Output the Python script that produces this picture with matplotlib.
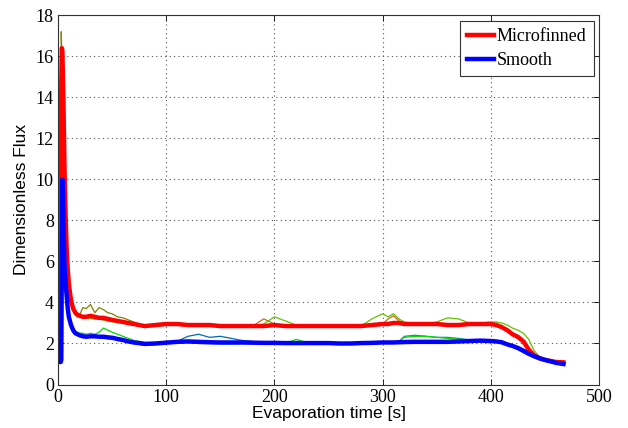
import matplotlib
matplotlib.use('Agg')
from matplotlib import pyplot as plt

# shared time grid [s]
t = [0, 1, 2, 2.5, 3, 3.5, 4, 4.5, 5, 6,
     7, 8, 9, 10, 12, 14, 16, 18, 20, 23,
     26, 30, 34, 38, 42, 46, 50, 55, 60, 65,
     70, 75, 80, 90, 100, 110, 120, 130, 140, 150,
     160, 170, 180, 190, 200, 210, 220, 230, 240, 250,
     260, 270, 280, 290, 300, 305, 310, 315, 320, 330,
     340, 350, 360, 370, 380, 390, 400, 405, 410, 415,
     420, 425, 430, 435, 440, 445, 450, 455, 460, 467]

# microfinned runs
mf_olive = [1.2, 1.2, 1.2, 8.0, 17.2, 16.0, 14.5, 13.0, 11.5, 9.0,
            7.2, 6.0, 5.2, 4.6, 3.9, 3.6, 3.4, 3.3, 3.4, 3.75,
            3.7, 3.9, 3.5, 3.75, 3.65, 3.5, 3.45, 3.3, 3.25, 3.15,
            3.05, 2.95, 2.85, 2.85, 2.95, 2.95, 2.9, 2.85, 2.85, 2.8,
            2.85, 2.85, 2.85, 2.9, 2.9, 2.85, 2.85, 2.9, 2.85, 2.85,
            2.85, 2.8, 2.85, 2.85, 2.95, 3.0, 2.95, 2.95, 3.0, 2.95,
            2.95, 2.9, 2.95, 2.9, 2.95, 3.0, 2.95, 2.9, 2.85, 2.7,
            2.5, 2.35, 2.15, 1.75, 1.45, 1.3, 1.2, 1.15, 1.1, 1.1]
mf_green = [1.2, 1.2, 1.2, 4.0, 12.0, 15.0, 15.5, 14.0, 12.5, 9.8,
            7.8, 6.3, 5.4, 4.8, 4.0, 3.7, 3.5, 3.45, 3.4, 3.3,
            3.25, 3.2, 3.2, 3.2, 3.15, 3.1, 3.05, 3.05, 3.0, 2.95,
            2.9, 2.85, 2.8, 2.9, 3.0, 2.95, 2.9, 2.9, 2.85, 2.85,
            2.8, 2.85, 2.85, 2.95, 3.3, 3.1, 2.9, 2.85, 2.9, 2.85,
            2.85, 2.9, 2.85, 3.2, 3.45, 3.3, 3.45, 3.2, 3.05, 2.95,
            2.95, 3.05, 3.25, 3.2, 3.0, 3.0, 3.05, 3.05, 3.0, 2.9,
            2.75, 2.65, 2.5, 2.2, 1.65, 1.35, 1.22, 1.15, 1.12, 1.1]
mf_brown = [1.2, 1.2, 1.2, 5.0, 13.5, 15.5, 15.0, 13.5, 12.0, 9.5,
            7.5, 6.2, 5.3, 4.7, 4.0, 3.65, 3.45, 3.35, 3.3, 3.25,
            3.25, 3.25, 3.2, 3.2, 3.15, 3.1, 3.1, 3.05, 3.0, 2.95,
            2.9, 2.85, 2.8, 2.85, 2.9, 2.9, 2.85, 2.85, 2.85, 2.8,
            2.8, 2.8, 2.85, 3.2, 2.95, 2.85, 2.8, 2.85, 2.8, 2.85,
            2.8, 2.8, 2.85, 2.9, 2.95, 3.2, 3.35, 3.1, 3.0, 2.95,
            2.95, 2.9, 2.85, 2.85, 2.9, 2.95, 2.95, 2.9, 2.8, 2.6,
            2.4, 2.3, 2.1, 1.65, 1.4, 1.28, 1.2, 1.15, 1.1, 1.08]
microfinned = [1.2, 1.2, 1.2, 6.0, 14.7, 16.4, 16.3, 15.0, 13.8, 10.5,
               8.2, 6.6, 5.6, 4.9, 4.1, 3.7, 3.5, 3.4, 3.35, 3.3,
               3.3, 3.35, 3.3, 3.25, 3.25, 3.2, 3.15, 3.1, 3.05, 3.0,
               2.95, 2.9, 2.85, 2.9, 2.95, 2.95, 2.9, 2.9, 2.9, 2.85,
               2.85, 2.85, 2.85, 2.85, 2.9, 2.85, 2.85, 2.85, 2.85, 2.85,
               2.85, 2.85, 2.85, 2.9, 2.95, 2.95, 3.0, 3.0, 2.95, 2.95,
               2.95, 2.95, 2.9, 2.9, 2.95, 2.95, 2.95, 2.9, 2.8, 2.65,
               2.45, 2.32, 2.1, 1.7, 1.42, 1.28, 1.2, 1.15, 1.1, 1.08]

# smooth runs
sm_green = [1.1, 1.1, 1.1, 1.1, 1.3, 5.0, 9.0, 9.2, 7.5, 5.5,
            4.7, 4.0, 3.5, 3.2, 2.85, 2.7, 2.6, 2.55, 2.5, 2.5,
            2.45, 2.5, 2.45, 2.55, 2.75, 2.65, 2.55, 2.45, 2.35, 2.25,
            2.15, 2.1, 2.05, 2.0, 2.05, 2.1, 2.1, 2.05, 2.05, 2.0,
            2.0, 2.0, 2.0, 2.0, 2.0, 2.0, 2.2, 2.05, 2.0, 2.0,
            1.98, 2.0, 2.0, 2.02, 2.05, 2.05, 2.05, 2.1, 2.3, 2.35,
            2.35, 2.3, 2.25, 2.2, 2.15, 2.12, 2.1, 2.08, 2.0, 1.92,
            1.85, 1.75, 1.6, 1.45, 1.32, 1.22, 1.16, 1.1, 1.05, 1.0]
sm_steel = [1.1, 1.1, 1.1, 1.1, 1.1, 4.0, 8.5, 9.0, 7.8, 5.6,
            4.8, 4.1, 3.5, 3.2, 2.8, 2.6, 2.5, 2.45, 2.4, 2.35,
            2.35, 2.35, 2.3, 2.3, 2.3, 2.25, 2.25, 2.2, 2.15, 2.1,
            2.05, 2.0, 2.0, 2.0, 2.05, 2.1, 2.35, 2.45, 2.3, 2.35,
            2.25, 2.15, 2.1, 2.05, 2.05, 2.05, 2.0, 2.0, 2.02, 2.0,
            2.0, 2.0, 2.0, 2.02, 2.05, 2.05, 2.05, 2.05, 2.05, 2.1,
            2.1, 2.1, 2.1, 2.12, 2.15, 2.18, 2.15, 2.12, 2.05, 1.95,
            1.85, 1.75, 1.62, 1.48, 1.35, 1.25, 1.18, 1.12, 1.06, 1.0]
sm_teal = [1.1, 1.1, 1.1, 1.1, 1.2, 5.5, 9.5, 9.0, 7.5, 5.4,
           4.6, 4.0, 3.5, 3.1, 2.8, 2.6, 2.5, 2.42, 2.38, 2.35,
           2.35, 2.33, 2.3, 2.3, 2.28, 2.25, 2.22, 2.18, 2.1, 2.05,
           2.0, 1.95, 1.92, 1.95, 2.0, 2.02, 2.05, 2.0, 2.0, 1.98,
           1.98, 2.0, 2.0, 1.98, 1.98, 2.0, 2.0, 1.98, 1.98, 1.98,
           1.98, 1.98, 2.0, 2.0, 2.05, 2.05, 2.05, 2.1, 2.35, 2.4,
           2.35, 2.3, 2.3, 2.25, 2.18, 2.15, 2.12, 2.1, 2.02, 1.92,
           1.82, 1.7, 1.55, 1.42, 1.3, 1.2, 1.13, 1.08, 1.03, 0.98]
smooth = [1.1, 1.1, 1.1, 1.1, 1.2, 6.0, 10.0, 9.5, 8.0, 5.8,
          5.0, 4.3, 3.7, 3.3, 2.9, 2.65, 2.5, 2.45, 2.4, 2.35,
          2.33, 2.35, 2.35, 2.33, 2.33, 2.3, 2.28, 2.22, 2.17, 2.1,
          2.05, 2.02, 1.98, 2.0, 2.04, 2.08, 2.1, 2.08, 2.06, 2.05,
          2.05, 2.05, 2.04, 2.03, 2.03, 2.02, 2.02, 2.02, 2.02, 2.02,
          2.0, 2.0, 2.02, 2.03, 2.05, 2.05, 2.05, 2.06, 2.07, 2.08,
          2.08, 2.08, 2.08, 2.1, 2.12, 2.14, 2.12, 2.1, 2.06, 1.96,
          1.88, 1.78, 1.65, 1.5, 1.38, 1.28, 1.2, 1.13, 1.06, 1.0]

xticks = [0, 100, 200, 300, 400, 500]
yticks = [0, 2, 4, 6, 8, 10, 12, 14, 16, 18]

serif = 'Liberation Serif'
sans = 'Liberation Sans'

fig = plt.figure(figsize=(6.28, 4.28), dpi=100)
ax = fig.add_axes([0.0924, 0.1016, 0.8616, 0.8626])

# individual runs (thin)
ax.plot(t, mf_olive, color=(0.5, 0.5, 0.0), lw=0.9)
ax.plot(t, mf_brown, color=(0.78, 0.42, 0.1), lw=0.9)
ax.plot(t, mf_green, color=(0.4, 0.75, 0.0), lw=0.9)
ax.plot(t, sm_steel, color=(0.0, 0.42, 0.66), lw=0.9)
ax.plot(t, sm_teal, color=(0.0, 0.6, 0.5), lw=0.9)
ax.plot(t, sm_green, color=(0.0, 0.85, 0.0), lw=0.9)

# averaged curves (thick)
ax.plot(t, microfinned, color='red', lw=3.2, label='Microfinned')
ax.plot(t, smooth, color='blue', lw=3.2, label='Smooth')

ax.set_xlim(0, 500)
ax.set_ylim(0, 18)
ax.set_xticks(xticks)
ax.set_yticks(yticks)
ax.grid(True, color='#555555', linestyle=(0, (1, 3)), linewidth=0.8)
ax.tick_params(direction='in', top=True, right=True, length=4, width=0.6,
               labelsize=13, pad=3)
for lab in ax.get_xticklabels() + ax.get_yticklabels():
    lab.set_fontfamily(serif)
for sp in ax.spines.values():
    sp.set_linewidth(0.8)
    sp.set_color('#333333')

ax.set_xlabel('Evaporation time [s]', fontfamily=sans, fontsize=12.5, labelpad=0)
ax.set_ylabel('Dimensionless Flux', fontfamily=sans, fontsize=12.5, labelpad=5)

leg = ax.legend(loc='upper right', prop={'family': serif, 'size': 13},
                fancybox=False, framealpha=1, edgecolor='#333333',
                handlelength=1.5, handletextpad=0.15, borderpad=0.4,
                labelspacing=0.4, borderaxespad=0.3)
leg.get_frame().set_linewidth(0.8)

fig.savefig('out.png', dpi=100)
